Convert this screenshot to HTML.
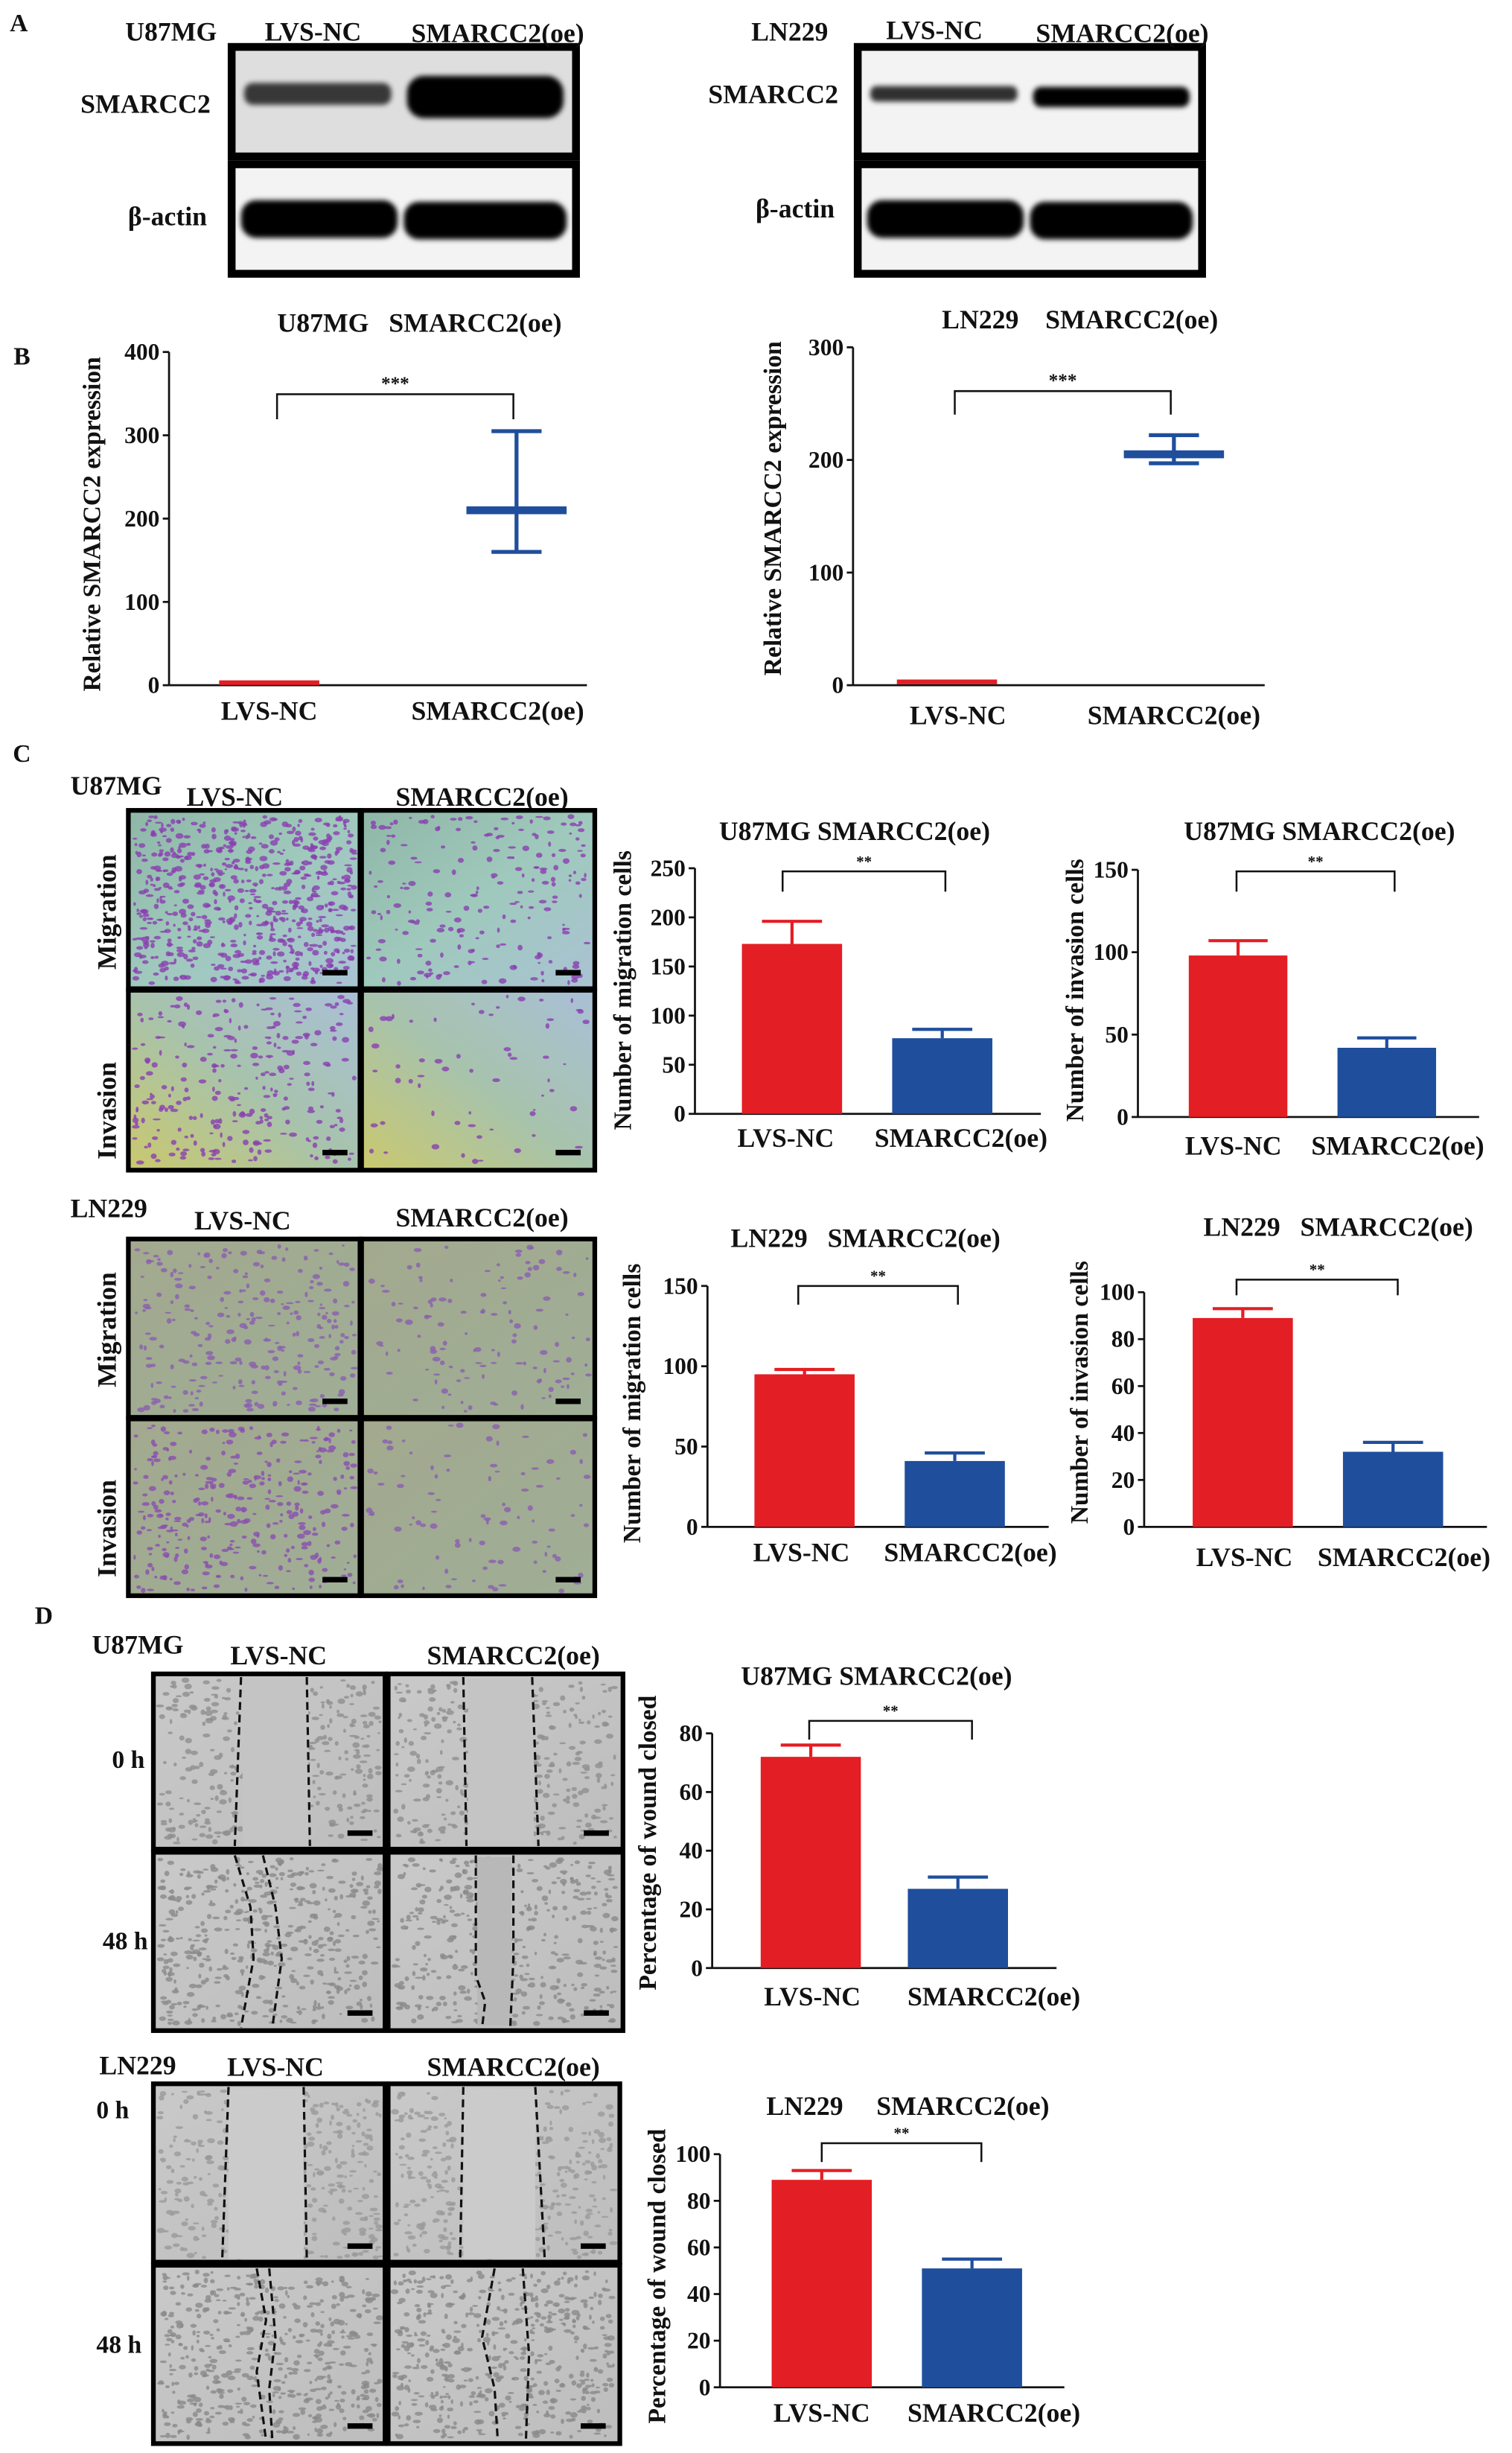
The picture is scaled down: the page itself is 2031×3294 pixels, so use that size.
<!DOCTYPE html>
<html><head><meta charset="utf-8"><style>
html,body{margin:0;padding:0;background:#fff}
svg{display:block}
text{font-family:"Liberation Serif",serif;font-weight:bold;fill:#111;white-space:pre}
</style></head><body>
<svg id="fig" width="2031" height="3294" viewBox="0 0 966 1568" preserveAspectRatio="none" xmlns="http://www.w3.org/2000/svg" xml:space="preserve">
<defs>
<linearGradient id="gTeal1" x1="0" y1="0" x2="1" y2="1"><stop offset="0" stop-color="#8fb7a8"/><stop offset="0.5" stop-color="#9fc9bc"/><stop offset="1" stop-color="#a9c3d3"/></linearGradient>
<linearGradient id="gTeal2" x1="0" y1="1" x2="1" y2="0"><stop offset="0" stop-color="#c9c86e"/><stop offset="0.5" stop-color="#a7c3ad"/><stop offset="1" stop-color="#a9c0d6"/></linearGradient>
<linearGradient id="gOlive" x1="0" y1="0" x2="1" y2="1"><stop offset="0" stop-color="#a2a98e"/><stop offset="1" stop-color="#9fae96"/></linearGradient>
<linearGradient id="gGray" x1="0" y1="0" x2="1" y2="1"><stop offset="0" stop-color="#c9c9c9"/><stop offset="1" stop-color="#bdbdbd"/></linearGradient>
<filter id="blur" x="-20%" y="-50%" width="140%" height="200%"><feGaussianBlur stdDeviation="1.6"/></filter>
</defs>
<g id="root"></g>
</svg>
<script>
// ---------- chart data ----------
const categories = ["LVS-NC", "SMARCC2(oe)"];
// Panel B
const bU87Mean = [3, 210];
const bU87Low = [3, 160];
const bU87High = [3, 305];
const bU87Ticks = [0, 100, 200, 300, 400];
const bLNMean = [3, 205];
const bLNLow = [3, 197];
const bLNHigh = [3, 222];
const bLNTicks = [0, 100, 200, 300];
// Panel C
const c1Values = [173, 77];
const c1Errors = [23, 9];
const c1Ticks = [0, 50, 100, 150, 200, 250];
const c2Values = [98, 42];
const c2Errors = [9, 6];
const c2Ticks = [0, 50, 100, 150];
const c3Values = [95, 41];
const c3Errors = [3, 5];
const c3Ticks = [0, 50, 100, 150];
const c4Values = [89, 32];
const c4Errors = [4, 4];
const c4Ticks = [0, 20, 40, 60, 80, 100];
// Panel D
const d1Values = [72, 27];
const d1Errors = [4, 4];
const d1Ticks = [0, 20, 40, 60, 80];
const d2Values = [89, 51];
const d2Errors = [4, 4];
const d2Ticks = [0, 20, 40, 60, 80, 100];

const NS = "http://www.w3.org/2000/svg";
const root = document.getElementById('root');
const RED = "#e31e24", BLUE = "#1f4e9c";
function mk(tag, attrs, parent, txt) {
  const e = document.createElementNS(NS, tag);
  for (const k in attrs) e.setAttribute(k, attrs[k]);
  if (txt !== undefined) e.textContent = txt;
  (parent || root).appendChild(e);
  return e;
}
function label(x, y, s, size, name, anchor, rot) {
  const t = mk('text', {x: x, y: y, 'font-size': size, 'text-anchor': anchor || 'middle'}, root, s);
  if (rot) t.setAttribute('transform', 'rotate(-90 ' + x + ' ' + y + ')');
  
  
  return t;
}

// ---------- axis helper ----------
function axes(g, cfg, ticks) {
  const max = ticks[ticks.length - 1];
  const sy = v => cfg.y0 - (v / max) * (cfg.y0 - cfg.y1);
  const ax = mk('line', {x1: cfg.x0, y1: cfg.y1, x2: cfg.x0, y2: cfg.y0, stroke: '#111', 'stroke-width': 1.3}, g);
  
  
  const bx = mk('line', {x1: cfg.x0, y1: cfg.y0, x2: cfg.xEnd, y2: cfg.y0, stroke: '#111', 'stroke-width': 1.3}, g);
  
  
  ticks.forEach(v => {
    const tk = mk('line', {x1: cfg.x0 - 4, y1: sy(v), x2: cfg.x0, y2: sy(v), stroke: '#111', 'stroke-width': 1.3}, g);
    
    
    const tl = mk('text', {x: cfg.x0 - 6, y: sy(v) + 5, 'font-size': cfg.fs || 15, 'text-anchor': 'end'}, g, String(v));
    
    
  });
  return sy;
}
function bracket(g, cfg, stars) {
  const p = mk('path', {d: 'M' + cfg.bx1 + ' ' + cfg.bd + ' V' + cfg.by + ' H' + cfg.bx2 + ' V' + cfg.bd, fill: 'none', stroke: '#111', 'stroke-width': 1.2}, g);
  
  
  const t = mk('text', {x: (cfg.bx1 + cfg.bx2) / 2, y: cfg.by - 3, 'font-size': stars.length > 2 ? 12 : 10, 'text-anchor': 'middle'}, g, stars);
  
  
}
function barChart(name, cfg, values, errors, ticks) {
  const g = mk('g', {}, root);
  
  
  const sy = axes(g, cfg, ticks);
  values.forEach((v, i) => {
    const cx = cfg.cx[i], w = cfg.bw;
    const col = i === 0 ? RED : BLUE;
    const e = mk('path', {d: 'M' + cx + ' ' + sy(v) + ' V' + sy(v + errors[i]) + ' M' + (cx - w * 0.3) + ' ' + sy(v + errors[i]) + ' H' + (cx + w * 0.3), stroke: col, 'stroke-width': 2, fill: 'none'}, g);
    
    
    const r = mk('rect', {x: cx - w / 2, y: sy(v), width: w, height: cfg.y0 - sy(v), fill: col}, g);
    
    
    const xl = mk('text', {x: cfg.lx[i], y: cfg.ly, 'font-size': 17, 'text-anchor': 'middle'}, g, categories[i]);
    
    
  });
  bracket(g, cfg, '**');
  const tt = mk('text', {x: cfg.tx, y: cfg.ty, 'font-size': 17, 'text-anchor': 'middle'}, g, cfg.title);
  
  
  const yt = mk('text', {x: cfg.ytx, y: cfg.yty, 'font-size': 16, 'text-anchor': 'middle', transform: 'rotate(-90 ' + cfg.ytx + ' ' + cfg.yty + ')'}, g, cfg.ytitle);
  
  
}
function meanChart(name, cfg, mean, low, high, ticks) {
  const g = mk('g', {}, root);
  
  
  const sy = axes(g, cfg, ticks);
  mean.forEach((m, i) => {
    const cx = cfg.cx[i], col = i === 0 ? RED : BLUE;
    const hw = 32;
    if (high[i] > low[i]) {
      const e = mk('path', {d: 'M' + cx + ' ' + sy(high[i]) + ' V' + sy(low[i]) + ' M' + (cx - 16) + ' ' + sy(high[i]) + ' H' + (cx + 16) + ' M' + (cx - 16) + ' ' + sy(low[i]) + ' H' + (cx + 16), stroke: col, 'stroke-width': 2.5, fill: 'none'}, g);
      
      
    }
    const ml = mk('line', {x1: cx - hw, y1: sy(m), x2: cx + hw, y2: sy(m), stroke: col, 'stroke-width': i === 0 ? 3 : 5}, g);
    
    
    const xl = mk('text', {x: cfg.lx[i], y: cfg.ly, 'font-size': 17, 'text-anchor': 'middle'}, g, categories[i]);
    
    
  });
  bracket(g, cfg, '***');
  const tt = mk('text', {x: cfg.tx, y: cfg.ty, 'font-size': 17, 'text-anchor': 'middle'}, g, cfg.title);
  
  
  const yt = mk('text', {x: cfg.ytx, y: cfg.yty, 'font-size': 16, 'text-anchor': 'middle', transform: 'rotate(-90 ' + cfg.ytx + ' ' + cfg.yty + ')'}, g, cfg.ytitle);
  
  
}

// ---------- deterministic PRNG for micrograph texture ----------
let seed = 7;
function rnd() { seed = (seed * 16807) % 2147483647; return seed / 2147483647; }

function micro(x, y, w, h, fill, dotColor, nDots, name, scale) {
  const g = mk('g', {}, root);
  
  
  mk('rect', {x: x, y: y, width: w, height: h, fill: fill}, g);
  for (let i = 0; i < nDots; i++) {
    mk('ellipse', {cx: x + 3 + rnd() * (w - 6), cy: y + 3 + rnd() * (h - 6), rx: 0.8 + rnd() * 1.8, ry: 0.6 + rnd() * 1.2, fill: dotColor, opacity: 0.8}, g);
  }
  if (scale) mk('rect', {x: x + w - 24, y: y + h - 12, width: 16, height: 3.5, fill: '#000'}, g);
  return g;
}
function frame(x, y, w, h, name, sw) {
  const r = mk('rect', {x: x, y: y, width: w, height: h, fill: 'none', stroke: '#000', 'stroke-width': sw || 3}, root);
  
  
}
function dashes(x, y, h, pts, name) {
  let d = '';
  pts.forEach((p, i) => { d += (i ? ' L' : 'M') + (x + p[0]) + ' ' + (y + p[1] * h); });
  const p = mk('path', {d: d, fill: 'none', stroke: '#111', 'stroke-width': 1.5, 'stroke-dasharray': '5 3'}, root);
  
  
}

// ---------- Panel A: blots ----------
label(12, 20, 'A', 16, 'panel-label-a');
function band(x, cy, w, h, op, name) {
  const r = mk('rect', {x: x, y: cy - h / 2, width: w, height: h, rx: h / 2.5, fill: '#000', opacity: op, filter: 'url(#blur)'}, root);
  
  
}
function blot(x0, cell, lblX, lblY1, lblY2, smL, smR, smOp, smCy) {
  label(x0 - 10 + 42, 26, cell, 17, 'cell-line-label', 'start');
  [[30, 100], [105, 175]].forEach((yy, r) => {
    const bg = mk('rect', {x: x0 + 100, y: yy[0], width: 220, height: yy[1] - yy[0], fill: r === 0 && smOp < 0.8 ? '#dedede' : '#f3f3f3'}, root);
    
    
    if (r === 0) {
      band(x0 + 108, yy[0] + smCy, 94, smL, smOp, 'band-smarcc2-lvs-nc');
      band(x0 + 212, yy[0] + smCy + 2, 100, smR, 1, 'band-smarcc2-oe');
    } else {
      band(x0 + 106, 140, 100, 24, 1, 'band-actin-lvs-nc');
      band(x0 + 210, 141, 104, 24, 1, 'band-actin-oe');
    }
    frame(x0 + 100, yy[0], 220, yy[1] - yy[0], 'blot-frame', 5);
  });
  label(lblX, lblY1, 'SMARCC2', 17, 'row-label-smarcc2', 'middle');
  label(lblX + 14, lblY2, 'β-actin', 17, 'row-label-beta-actin', 'middle');
}
blot(48, 'U87MG', 93, 72, 144, 14, 27, 0.75, 30);
label(200, 26, 'LVS-NC', 17, 'column-label-lvs-nc');
label(318, 27, 'SMARCC2(oe)', 17, 'column-label-smarcc2-oe');
blot(448, 'LN229', 494, 66, 139, 10, 13, 0.8, 30);
label(597, 25, 'LVS-NC', 17, 'column-label-lvs-nc');
label(717, 27, 'SMARCC2(oe)', 17, 'column-label-smarcc2-oe');

// ---------- Panel B ----------
label(14, 233, 'B', 16, 'panel-label-b');
meanChart('chart-b-u87mg', {x0: 108, y0: 438, y1: 225, xEnd: 375, cx: [172, 330], lx: [172, 318], ly: 460,
  bx1: 177, bx2: 328, by: 252, bd: 268, tx: 268, ty: 212, title: 'U87MG   SMARCC2(oe)', ytx: 64, yty: 335, ytitle: 'Relative SMARCC2 expression'},
  bU87Mean, bU87Low, bU87High, bU87Ticks);
meanChart('chart-b-ln229', {x0: 545, y0: 438, y1: 222, xEnd: 808, cx: [605, 750], lx: [612, 750], ly: 463,
  bx1: 610, bx2: 748, by: 250, bd: 265, tx: 690, ty: 210, title: 'LN229    SMARCC2(oe)', ytx: 499, yty: 325, ytitle: 'Relative SMARCC2 expression'},
  bLNMean, bLNLow, bLNHigh, bLNTicks);

// ---------- Panel C: images ----------
label(14, 487, 'C', 16, 'panel-label-c');
label(45, 508, 'U87MG', 17, 'cell-line-label', 'start');
label(150, 515, 'LVS-NC', 17, 'column-label-lvs-nc');
label(308, 515, 'SMARCC2(oe)', 17, 'column-label-smarcc2-oe');
micro(83, 519, 147, 113, 'url(#gTeal1)', '#8a3fb0', 650, 'micrograph-u87-migration-nc', true);
micro(232, 519, 147, 113, 'url(#gTeal1)', '#8a3fb0', 200, 'micrograph-u87-migration-oe', true);
micro(83, 634, 147, 113, 'url(#gTeal2)', '#8a3fb0', 260, 'micrograph-u87-invasion-nc', true);
micro(232, 634, 147, 113, 'url(#gTeal2)', '#8a3fb0', 60, 'micrograph-u87-invasion-oe', true);
frame(82, 518, 148, 114, 'image-frame'); frame(231, 518, 149, 114, 'image-frame');
frame(82, 633, 148, 115, 'image-frame'); frame(231, 633, 149, 115, 'image-frame');
label(74, 583, 'Migration', 17, 'row-label-migration', 'middle', true);
label(74, 710, 'Invasion', 17, 'row-label-invasion', 'middle', true);

label(45, 778, 'LN229', 17, 'cell-line-label', 'start');
label(155, 786, 'LVS-NC', 17, 'column-label-lvs-nc');
label(308, 784, 'SMARCC2(oe)', 17, 'column-label-smarcc2-oe');
micro(83, 793, 147, 113, 'url(#gOlive)', '#8a5fb0', 250, 'micrograph-ln229-migration-nc', true);
micro(232, 793, 147, 113, 'url(#gOlive)', '#8a5fb0', 120, 'micrograph-ln229-migration-oe', true);
micro(83, 908, 147, 112, 'url(#gOlive)', '#8a4fb0', 320, 'micrograph-ln229-invasion-nc', true);
micro(232, 908, 147, 112, 'url(#gOlive)', '#8a5fb0', 90, 'micrograph-ln229-invasion-oe', true);
frame(82, 792, 148, 114, 'image-frame'); frame(231, 792, 149, 114, 'image-frame');
frame(82, 907, 148, 113, 'image-frame'); frame(231, 907, 149, 113, 'image-frame');
label(74, 850, 'Migration', 17, 'row-label-migration', 'middle', true);
label(74, 977, 'Invasion', 17, 'row-label-invasion', 'middle', true);

// ---------- Panel C charts ----------
barChart('chart-c-u87-migration', {x0: 444, y0: 712, y1: 555, xEnd: 665, cx: [506, 602], bw: 64, lx: [502, 614], ly: 733,
  bx1: 500, bx2: 604, by: 557, bd: 570, tx: 546, ty: 537, title: 'U87MG SMARCC2(oe)', ytx: 403, yty: 633, ytitle: 'Number of migration cells'},
  c1Values, c1Errors, c1Ticks);
barChart('chart-c-u87-invasion', {x0: 727, y0: 714, y1: 556, xEnd: 945, cx: [791, 886], bw: 63, lx: [788, 893], ly: 738,
  bx1: 790, bx2: 891, by: 557, bd: 570, tx: 843, ty: 537, title: 'U87MG SMARCC2(oe)', ytx: 692, yty: 633, ytitle: 'Number of invasion cells'},
  c2Values, c2Errors, c2Ticks);
barChart('chart-c-ln229-migration', {x0: 452, y0: 976, y1: 822, xEnd: 670, cx: [514, 610], bw: 64, lx: [512, 620], ly: 998,
  bx1: 510, bx2: 612, by: 822, bd: 834, tx: 553, ty: 797, title: 'LN229   SMARCC2(oe)', ytx: 409, yty: 897, ytitle: 'Number of migration cells'},
  c3Values, c3Errors, c3Ticks);
barChart('chart-c-ln229-invasion', {x0: 731, y0: 976, y1: 826, xEnd: 950, cx: [794, 890], bw: 64, lx: [795, 897], ly: 1001,
  bx1: 790, bx2: 893, by: 818, bd: 828, tx: 855, ty: 790, title: 'LN229   SMARCC2(oe)', ytx: 695, yty: 890, ytitle: 'Number of invasion cells'},
  c4Values, c4Errors, c4Ticks);

// ---------- Panel D: scratch images ----------
label(28, 1038, 'D', 16, 'panel-label-d');
label(88, 1057, 'U87MG', 17, 'cell-line-label');
label(178, 1064, 'LVS-NC', 17, 'column-label-lvs-nc');
label(328, 1064, 'SMARCC2(oe)', 17, 'column-label-smarcc2-oe');
micro(99, 1071, 147, 111, 'url(#gGray)', '#8e8e8e', 350, 'scratch-u87-nc-0h', true);
micro(249, 1071, 148, 111, 'url(#gGray)', '#8e8e8e', 350, 'scratch-u87-oe-0h', true);
micro(99, 1185, 147, 112, 'url(#gGray)', '#8a8a8a', 450, 'scratch-u87-nc-48h', true);
micro(249, 1185, 148, 112, 'url(#gGray)', '#8a8a8a', 400, 'scratch-u87-oe-48h', true);
mk('rect', {x: 155, y: 1073, width: 42, height: 107, fill: '#c4c4c4'});
mk('rect', {x: 299, y: 1073, width: 42, height: 107, fill: '#c4c4c4'});
mk('rect', {x: 305, y: 1187, width: 22, height: 108, fill: '#b8b8b8'});
frame(98, 1070, 148, 112, 'image-frame'); frame(248, 1070, 150, 112, 'image-frame');
frame(98, 1184, 148, 114, 'image-frame'); frame(248, 1184, 150, 114, 'image-frame');
dashes(98, 1072, 108, [[56, 0], [52, 1]], 'wound-edge');
dashes(98, 1072, 108, [[98, 0], [100, 1]], 'wound-edge');
dashes(248, 1072, 108, [[48, 0], [50, 1]], 'wound-edge');
dashes(248, 1072, 108, [[92, 0], [96, 1]], 'wound-edge');
dashes(98, 1186, 110, [[52, 0], [62, 0.3], [64, 0.6], [56, 1]], 'wound-edge');
dashes(98, 1186, 110, [[70, 0], [78, 0.3], [82, 0.6], [76, 1]], 'wound-edge');
dashes(248, 1186, 110, [[56, 0], [56, 0.7], [62, 0.85], [60, 1]], 'wound-edge');
dashes(248, 1186, 110, [[80, 0], [80, 0.6], [78, 1]], 'wound-edge');
label(82, 1130, '0 h', 16, 'time-label-0h');
label(80, 1246, '48 h', 16, 'time-label-48h');

label(88, 1326, 'LN229', 17, 'cell-line-label');
label(176, 1327, 'LVS-NC', 17, 'column-label-lvs-nc');
label(328, 1327, 'SMARCC2(oe)', 17, 'column-label-smarcc2-oe');
micro(99, 1333, 147, 113, 'url(#gGray)', '#9a9a9a', 400, 'scratch-ln229-nc-0h', true);
micro(249, 1333, 146, 113, 'url(#gGray)', '#9a9a9a', 400, 'scratch-ln229-oe-0h', true);
micro(99, 1449, 147, 112, 'url(#gGray)', '#8a8a8a', 500, 'scratch-ln229-nc-48h', true);
micro(249, 1449, 146, 112, 'url(#gGray)', '#8a8a8a', 500, 'scratch-ln229-oe-48h', true);
mk('rect', {x: 146, y: 1335, width: 48, height: 109, fill: '#cbcbcb'});
mk('rect', {x: 296, y: 1335, width: 46, height: 109, fill: '#cbcbcb'});
frame(98, 1332, 148, 114, 'image-frame'); frame(248, 1332, 148, 114, 'image-frame');
frame(98, 1448, 148, 114, 'image-frame'); frame(248, 1448, 148, 114, 'image-frame');
dashes(98, 1334, 110, [[48, 0], [44, 1]], 'wound-edge');
dashes(98, 1334, 110, [[96, 0], [98, 1]], 'wound-edge');
dashes(248, 1334, 110, [[48, 0], [46, 1]], 'wound-edge');
dashes(248, 1334, 110, [[94, 0], [100, 1]], 'wound-edge');
dashes(98, 1450, 110, [[66, 0], [72, 0.3], [66, 0.6], [72, 1]], 'wound-edge');
dashes(98, 1450, 110, [[74, 0], [78, 0.4], [74, 0.7], [76, 1]], 'wound-edge');
dashes(248, 1450, 110, [[68, 0], [60, 0.4], [68, 0.7], [70, 1]], 'wound-edge');
dashes(248, 1450, 110, [[86, 0], [90, 0.5], [88, 1]], 'wound-edge');
label(72, 1354, '0 h', 16, 'time-label-0h');
label(76, 1504, '48 h', 16, 'time-label-48h');

// ---------- Panel D charts ----------
barChart('chart-d-u87-wound', {x0: 455, y0: 1258, y1: 1108, xEnd: 675, cx: [518, 612], bw: 64, lx: [519, 635], ly: 1282,
  bx1: 517, bx2: 621, by: 1100, bd: 1112, tx: 560, ty: 1077, title: 'U87MG SMARCC2(oe)', ytx: 419, yty: 1178, ytitle: 'Percentage of wound closed'},
  d1Values, d1Errors, d1Ticks);
barChart('chart-d-ln229-wound', {x0: 460, y0: 1526, y1: 1377, xEnd: 680, cx: [525, 621], bw: 64, lx: [525, 635], ly: 1548,
  bx1: 525, bx2: 627, by: 1370, bd: 1382, tx: 580, ty: 1352, title: 'LN229     SMARCC2(oe)', ytx: 425, yty: 1455, ytitle: 'Percentage of wound closed'},
  d2Values, d2Errors, d2Ticks);
</script>
</body></html>
